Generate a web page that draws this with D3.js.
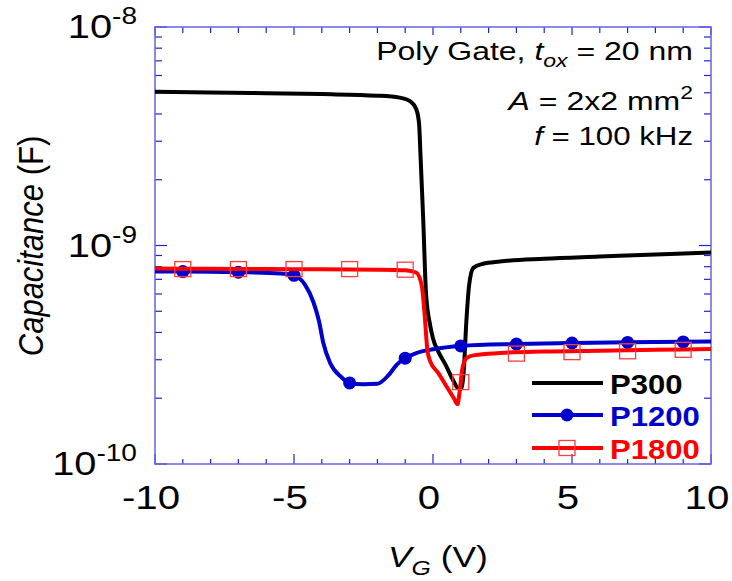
<!DOCTYPE html>
<html>
<head>
<meta charset="utf-8">
<script src="https://cdn.jsdelivr.net/npm/d3@7"></script>
<style>
  body { margin: 0; background: #fff; }
  svg { font-family: Arial, "Liberation Sans", sans-serif; }
</style>
</head>
<body>
<div id="chart"></div>
<script>
// Curves: [VG (V), C (F)]
const p300 = [
  [-10, 5.05e-9], [-8, 5.02e-9], [-6, 4.98e-9], [-4, 4.93e-9], [-2, 4.85e-9],
  [-1.2, 4.75e-9], [-0.8, 4.55e-9], [-0.6, 4.2e-9], [-0.5, 3.6e-9], [-0.45, 2.6e-9],
  [-0.35, 1.3e-9], [-0.25, 6.0e-10], [-0.1, 4.3e-10], [0.0, 3.75e-10], [0.2, 3.25e-10],
  [0.45, 2.85e-10], [0.7, 2.45e-10], [0.9, 2.22e-10], [1.0, 2.2e-10], [1.1, 2.6e-10],
  [1.2, 4.5e-10], [1.3, 6.6e-10], [1.45, 7.9e-10], [1.8, 8.25e-10], [2.4, 8.45e-10],
  [4, 8.7e-10], [6, 8.9e-10], [8, 9.1e-10], [10, 9.3e-10]
];
const p1200 = [
  [-10, 7.6e-10], [-9, 7.6e-10], [-7, 7.55e-10], [-5.5, 7.45e-10], [-5, 7.3e-10],
  [-4.6, 6.6e-10], [-4.3, 5.5e-10], [-4.1, 4.5e-10], [-3.95, 3.6e-10], [-3.7, 2.9e-10],
  [-3.3, 2.5e-10], [-3, 2.35e-10], [-2.5, 2.32e-10], [-2, 2.33e-10], [-1.6, 2.55e-10],
  [-1.3, 2.85e-10], [-1, 3.05e-10], [-0.6, 3.22e-10], [0, 3.35e-10], [1, 3.47e-10],
  [3, 3.54e-10], [5, 3.58e-10], [7, 3.61e-10], [10, 3.64e-10]
];
const p1800 = [
  [-10, 7.85e-10], [-8, 7.82e-10], [-6, 7.8e-10], [-4, 7.78e-10], [-2, 7.75e-10],
  [-1, 7.7e-10], [-0.6, 7.5e-10], [-0.4, 6.5e-10], [-0.3, 4.8e-10], [-0.2, 3.3e-10],
  [-0.1, 2.95e-10], [0.2, 2.6e-10], [0.5, 2.25e-10], [0.75, 2.0e-10], [0.88, 1.88e-10],
  [0.95, 2.1e-10], [1.05, 2.7e-10], [1.2, 3.05e-10], [1.5, 3.15e-10], [2.4, 3.22e-10],
  [4, 3.27e-10], [6, 3.3e-10], [8, 3.33e-10], [10, 3.36e-10]
];

// Marker positions
const markerV = [-9, -7, -5, -3, -1, 1, 3, 5, 7, 9];
const p1200Marks = [7.6e-10, 7.55e-10, 7.3e-10, 2.35e-10, 3.05e-10, 3.47e-10, 3.54e-10, 3.58e-10, 3.6e-10, 3.62e-10];
const p1800Marks = [7.8e-10, 7.8e-10, 7.8e-10, 7.8e-10, 7.75e-10, 2.37e-10, 3.2e-10, 3.25e-10, 3.28e-10, 3.33e-10];

const xTicks = [-10, -5, 0, 5, 10];
const yDecades = [-10, -9, -8];
const legendNames = ["P300", "P1200", "P1800"];

const W = 732, H = 581;
const plot = { left: 155, right: 711, top: 27, bottom: 464 };
const frameColor = "#6464e6";
const tickColor = "#2222cc";
const colors = { P300: "#000000", P1200: "#0000cc", P1800: "#ff0000" };

const x = d3.scaleLinear().domain([-10, 10]).range([plot.left, plot.right]);
const y = d3.scaleLog().domain([1e-10, 1e-8]).range([plot.bottom, plot.top]);

// the original text is a little wider than the font, so stretch it sideways
const at = (px, py, sx) => `translate(${px},${py}) scale(${sx},1)`;

const svg = d3.select("#chart").append("svg")
  .attr("width", W).attr("height", H);

svg.append("defs").append("clipPath").attr("id", "clip")
  .append("rect")
  .attr("x", plot.left).attr("y", plot.top)
  .attr("width", plot.right - plot.left).attr("height", plot.bottom - plot.top);

// ticks on all four sides, pointing inwards
const ticks = svg.append("g").attr("stroke", tickColor).attr("stroke-width", 1.2);
d3.range(-10, 11, 1).forEach(v => {
  const major = v % 5 === 0;
  const len = major ? 10 : 5;
  ticks.append("line").attr("x1", x(v)).attr("x2", x(v))
    .attr("y1", plot.bottom).attr("y2", plot.bottom - len);
  ticks.append("line").attr("x1", x(v)).attr("x2", x(v))
    .attr("y1", plot.top).attr("y2", plot.top + (major ? 8 : 6));
});
const yTickVals = [];
[-10, -9].forEach(e => d3.range(1, 10).forEach(m => yTickVals.push(m * Math.pow(10, e))));
yTickVals.push(1e-8);
yTickVals.forEach(v => {
  const major = Math.abs(Math.log10(v) - Math.round(Math.log10(v))) < 1e-6;
  const len = major ? 12 : 7;
  ticks.append("line").attr("x1", plot.left).attr("x2", plot.left + len)
    .attr("y1", y(v)).attr("y2", y(v));
  ticks.append("line").attr("x1", plot.right).attr("x2", plot.right - len)
    .attr("y1", y(v)).attr("y2", y(v));
});

// frame
svg.append("rect")
  .attr("x", plot.left).attr("y", plot.top)
  .attr("width", plot.right - plot.left).attr("height", plot.bottom - plot.top)
  .attr("fill", "none").attr("stroke", frameColor).attr("stroke-width", 1.5);

// x tick labels
svg.append("g").selectAll("text").data(xTicks).join("text")
  .attr("transform", d => at(x(d) - 4, 509, 1.22))
  .attr("text-anchor", "middle").attr("font-size", 33)
  .text(d => d);

// y tick labels 10^n
const yl = svg.append("g").selectAll("text").data(yDecades).join("text")
  .attr("transform", d => at(137, y(Math.pow(10, d)) + 11, 1.17))
  .attr("text-anchor", "end").attr("font-size", 34);
yl.append("tspan").text("10");
yl.append("tspan").attr("font-size", 24).attr("dy", -14).text(d => d);

// axis titles
const yt = svg.append("text")
  .attr("transform", "translate(43,246) rotate(-90) scale(1,1.15)")
  .attr("text-anchor", "middle").attr("font-size", 31);
yt.append("tspan").attr("font-style", "italic").text("Capacitance");
yt.append("tspan").text(" (F)");

const xt = svg.append("text").attr("transform", at(388, 567, 1.18)).attr("font-size", 30);
xt.append("tspan").attr("font-style", "italic").text("V");
xt.append("tspan").attr("font-style", "italic").attr("font-size", 21).attr("dy", 8).text("G");
xt.append("tspan").attr("dy", -8).text(" (V)");

// curves
const line = d3.line()
  .x(d => x(d[0])).y(d => y(d[1]))
  .curve(d3.curveMonotoneX);

const curves = svg.append("g").attr("clip-path", "url(#clip)");
[["P300", p300], ["P1200", p1200], ["P1800", p1800]].forEach(([name, data]) => {
  curves.append("path").datum(data)
    .attr("fill", "none").attr("stroke", colors[name])
    .attr("stroke-width", 4).attr("stroke-linejoin", "round")
    .attr("d", line);
  if (name === "P1200") {
    curves.append("g").selectAll("circle").data(markerV).join("circle")
      .attr("cx", d => x(d)).attr("cy", (d, i) => y(p1200Marks[i]))
      .attr("r", 6.5).attr("fill", colors.P1200);
  }
});
curves.append("g").selectAll("rect").data(markerV).join("rect")
  .attr("x", d => x(d) - 8).attr("y", (d, i) => y(p1800Marks[i]) - 7.5)
  .attr("width", 16).attr("height", 15)
  .attr("fill", "none").attr("stroke", "#ff3c3c").attr("stroke-width", 1.3);

// annotations
const note = svg.append("g").attr("text-anchor", "end").attr("font-size", 25);
const n1 = note.append("text").attr("transform", at(693, 60, 1.28));
n1.append("tspan").text("Poly Gate, ");
n1.append("tspan").attr("font-style", "italic").text("t");
n1.append("tspan").attr("font-style", "italic").attr("font-size", 18).attr("dy", 7).text("ox");
n1.append("tspan").attr("dy", -7).text(" = 20 nm");
const n2 = note.append("text").attr("transform", at(693, 110, 1.28));
n2.append("tspan").attr("font-style", "italic").text("A");
n2.append("tspan").text(" = 2x2 mm");
n2.append("tspan").attr("font-size", 18).attr("dy", -11).text("2");
const n3 = note.append("text").attr("transform", at(693, 145, 1.25));
n3.append("tspan").attr("font-style", "italic").text("f");
n3.append("tspan").text(" = 100 kHz");

// legend
const legY = [383, 415, 448];
const leg = svg.append("g");
legendNames.forEach((name, i) => {
  leg.append("line").attr("x1", 532).attr("x2", 603)
    .attr("y1", legY[i]).attr("y2", legY[i])
    .attr("stroke", colors[name]).attr("stroke-width", 4);
  if (name === "P1200") {
    leg.append("circle").attr("cx", 567).attr("cy", legY[i]).attr("r", 6.5)
      .attr("fill", colors.P1200);
  }
  if (name === "P1800") {
    leg.append("rect").attr("x", 559).attr("y", legY[i] - 7.5)
      .attr("width", 16).attr("height", 15)
      .attr("fill", "none").attr("stroke", "#ff3c3c").attr("stroke-width", 1.3);
  }
  leg.append("text").attr("transform", at(610, legY[i] + 11, 1.15))
    .attr("font-size", 27).attr("font-weight", "bold")
    .attr("fill", colors[name]).text(name);
});
</script>
</body>
</html>
